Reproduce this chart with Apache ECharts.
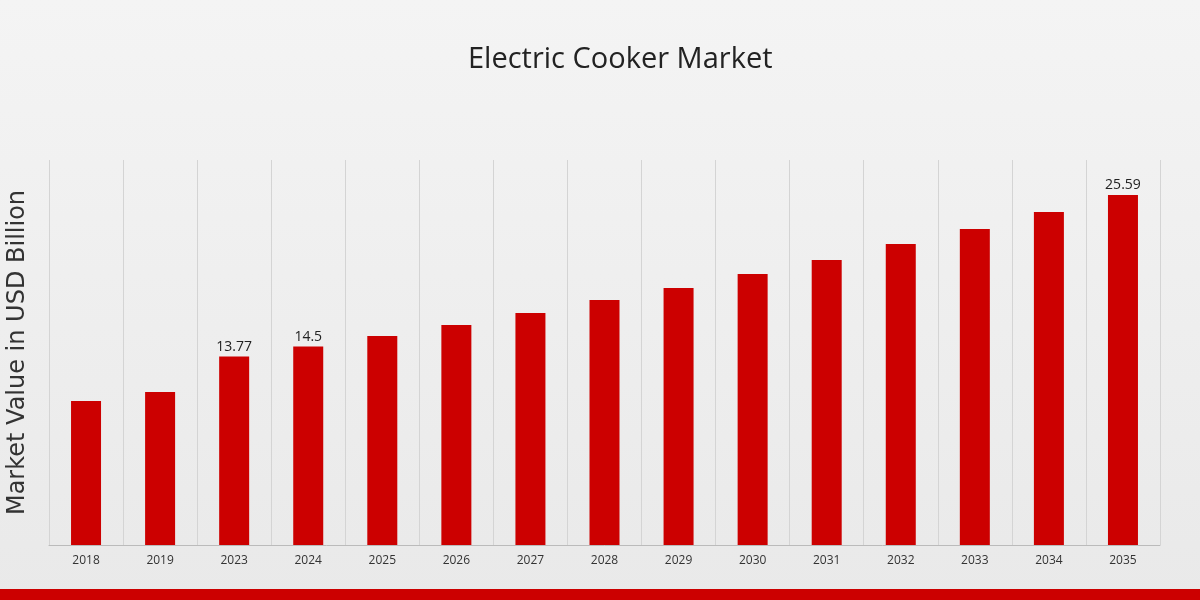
<!DOCTYPE html><html><head><meta charset="utf-8">
<script src="https://cdn.jsdelivr.net/npm/echarts@6/dist/echarts.min.js"></script>
<style>html,body{margin:0;padding:0}#c{width:1200px;height:600px;background:linear-gradient(180deg,#f4f4f4,#e9e9e9)}</style>
</head><body><div id="c"></div><script>
const categories=['2018','2019','2023','2024','2025','2026','2027','2028','2029','2030','2031','2032','2033','2034','2035'];
const values=[10.53,11.18,13.77,14.5,15.28,16.08,16.96,17.91,18.79,19.81,20.83,22.0,23.1,24.34,25.59];
const labeled=['2023','2024','2035'];
const chart=echarts.init(document.getElementById('c'));
chart.setOption({
 title:{text:'Electric Cooker Market',left:463,top:40,textStyle:{fontFamily:'Open Sans',fontWeight:'normal',fontSize:29,color:'#222'}},
 grid:{left:49,right:40,top:160,bottom:55,outerBoundsMode:'none'},
 graphic:[{type:'rect',shape:{x:0,y:589,width:1200,height:11},style:{fill:'#cc0000'}}],
 xAxis:{type:'category',data:categories,axisTick:{show:false},axisLine:{lineStyle:{color:'#bbb'}},
  axisLabel:{color:'#333',fontSize:12,fontFamily:'Open Sans',margin:10},
  splitLine:{show:true,lineStyle:{color:'#d4d4d4'}}},
 yAxis:{type:'value',min:0,max:28.14,axisLabel:{show:false},splitLine:{show:false},
  name:'Market Value in USD Billion',nameLocation:'middle',nameGap:19,nameTextStyle:{fontSize:24,color:'#333',fontFamily:'DejaVu Sans'}},
 series:[{type:'bar',barWidth:30,data:values.map((v,i)=>({value:v,label:{show:labeled.includes(categories[i])}})),
  itemStyle:{color:'#cc0000'},label:{position:'top',color:'#222',fontSize:14,fontFamily:'Open Sans',distance:3}}]
});
</script></body></html>
